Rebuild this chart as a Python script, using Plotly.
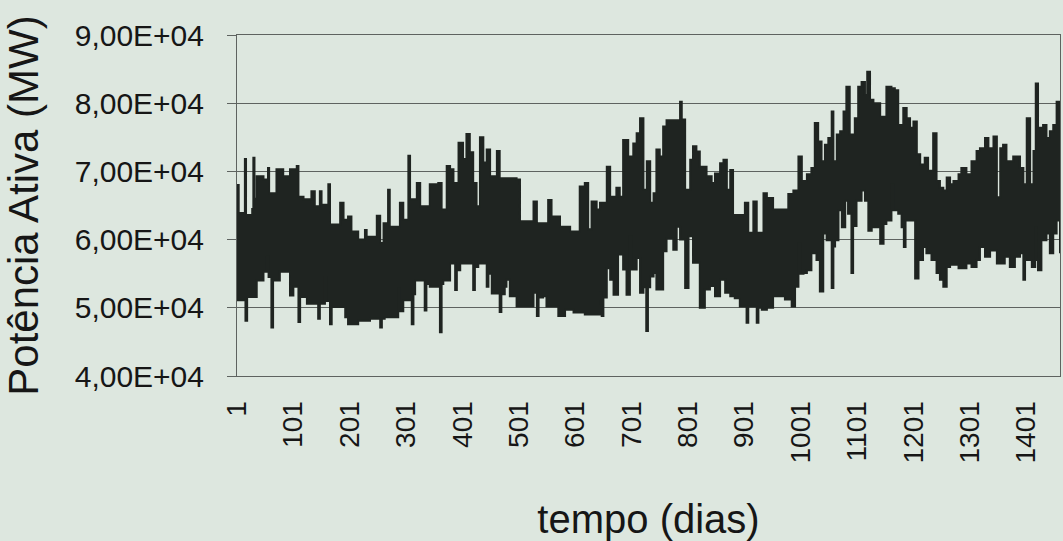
import plotly.graph_objects as go

# upper envelope of the daily load (day, MW)
dias_max = [1, 4, 15, 17, 24, 28, 30, 32, 36, 48,
            56, 58, 71, 83, 95, 107, 110, 119, 133, 139,
            148, 151, 163, 166, 184, 190, 198, 204, 216, 228,
            231, 249, 255, 261, 269, 272, 290, 296, 305, 308,
            320, 326, 343, 358, 364, 373, 379, 385, 394, 402,
            408, 414, 420, 426, 432, 438, 444, 450, 462, 467,
            497, 503, 527, 533, 553, 559, 574, 592, 609, 618,
            624, 630, 639, 645, 657, 663, 674, 680, 686, 695,
            704, 710, 716, 722, 728, 734, 740, 745, 751, 757,
            763, 787, 790, 796, 805, 810, 816, 822, 834, 843,
            849, 858, 864, 870, 876, 881, 902, 908, 917, 923,
            935, 941, 952, 979, 988, 997, 1003, 1012, 1020, 1026,
            1032, 1038, 1044, 1050, 1056, 1059, 1065, 1071, 1077, 1082,
            1088, 1097, 1103, 1109, 1115, 1119, 1124, 1130, 1142, 1153,
            1162, 1168, 1174, 1183, 1189, 1195, 1201, 1207, 1213, 1221,
            1227, 1236, 1242, 1248, 1254, 1260, 1266, 1272, 1281, 1286,
            1295, 1304, 1313, 1319, 1328, 1334, 1343, 1349, 1355, 1360,
            1366, 1378, 1390, 1396, 1402, 1408, 1414, 1418, 1422, 1431,
            1437, 1443, 1449, 1455, 1461]
pot_max = [68000, 63900, 71800, 63600, 63600, 64500, 72000, 66000, 69300, 68800,
           70500, 66800, 70300, 69300, 70300, 70800, 66300, 65900, 67100, 64900,
           67100, 65100, 68100, 62200, 65400, 62900, 63400, 61200, 60000, 61400,
           60400, 63500, 59500, 62400, 67300, 61900, 65400, 62900, 72300, 65900,
           68300, 64900, 68100, 68300, 64400, 70800, 70300, 68300, 74200, 71800,
           75500, 72800, 68300, 64900, 75000, 71300, 73200, 69300, 73000, 69000,
           68800, 62700, 65600, 62400, 65800, 63400, 61900, 61200, 67800, 68300,
           61500, 65600, 64400, 65400, 70700, 66300, 67600, 66300, 74600, 72200,
           74100, 75600, 77800, 67300, 71500, 65400, 66800, 73200, 72200, 76600,
           77500, 80200, 77600, 67300, 71700, 73700, 72900, 70700, 69300, 68300,
           69700, 71200, 71700, 67300, 70200, 63600, 65400, 61000, 65600, 61000,
           66800, 66100, 64400, 66700, 67200, 72200, 68600, 69600, 70500, 77100,
           74400, 71500, 73900, 74900, 78800, 71500, 75400, 75900, 78800, 82400,
           75400, 77800, 82400, 83100, 81200, 84600, 80500, 80000, 78000, 82400,
           82200, 81900, 76800, 79300, 77800, 76400, 77300, 72500, 71000, 72000,
           70100, 75600, 68600, 67600, 67200, 69100, 68100, 68600, 69600, 70500,
           69600, 71500, 73000, 73400, 74900, 73400, 75100, 66200, 73400, 73900,
           71500, 72200, 70500, 68100, 77800, 68100, 73000, 82900, 76400, 76800,
           74900, 75900, 76800, 80200, 77300]

# lower envelope of the daily load (day, MW)
dias_min = [1, 16, 19, 36, 48, 54, 57, 62, 65, 77,
            95, 101, 110, 113, 125, 145, 148, 157, 160, 166,
            169, 193, 198, 216, 237, 255, 258, 263, 287, 290,
            296, 311, 314, 317, 334, 337, 343, 361, 364, 367,
            379, 388, 391, 397, 420, 423, 429, 444, 447, 453,
            467, 470, 476, 479, 485, 497, 527, 533, 536, 544,
            550, 571, 583, 598, 618, 633, 645, 648, 651, 657,
            663, 669, 677, 686, 692, 698, 701, 710, 716, 722,
            727, 730, 734, 740, 745, 757, 763, 775, 781, 787,
            796, 802, 810, 822, 831, 840, 849, 858, 867, 876,
            884, 893, 905, 908, 923, 926, 932, 941, 952, 964,
            973, 985, 991, 997, 1000, 1006, 1012, 1020, 1029, 1035,
            1041, 1047, 1056, 1059, 1062, 1068, 1074, 1080, 1085, 1091,
            1094, 1100, 1109, 1115, 1121, 1127, 1142, 1148, 1153, 1162,
            1165, 1174, 1180, 1184, 1187, 1204, 1210, 1218, 1224, 1233,
            1242, 1248, 1254, 1260, 1266, 1281, 1295, 1304, 1313, 1319,
            1328, 1337, 1349, 1363, 1372, 1381, 1390, 1396, 1399, 1411,
            1417, 1420, 1422, 1428, 1437, 1443, 1449, 1455, 1461]
pot_min = [51100, 48100, 51600, 54000, 55300, 57500, 54500, 47100, 54000, 55300,
           51800, 53100, 47900, 51600, 50600, 48400, 50600, 54500, 51000, 47600,
           50100, 48600, 47600, 48100, 48400, 47100, 48400, 48600, 52800, 49500,
           51100, 47600, 52000, 54000, 49600, 53500, 53100, 46400, 53500, 54000,
           56500, 52600, 55500, 56500, 52600, 56000, 56500, 53100, 55000, 52100,
           49400, 52000, 53100, 54100, 51700, 50200, 52200, 48800, 51500, 51700,
           50200, 48800, 49700, 49300, 49000, 49000, 52200, 48800, 51500, 55800,
           54100, 51900, 57800, 55600, 51900, 60500, 55600, 57300, 52200, 53000,
           46600, 53000, 54600, 55100, 52700, 58300, 60200, 58500, 61900, 60000,
           52900, 60500, 56600, 50000, 52700, 53200, 51700, 54100, 52200, 51700,
           51400, 50200, 47800, 50200, 47800, 50000, 49700, 50000, 51700, 51700,
           51200, 50200, 53100, 59400, 55000, 55100, 55500, 58000, 57000, 52400,
           60900, 59900, 52900, 59000, 59900, 64300, 61800, 65700, 63800, 55100,
           62000, 65700, 67200, 65700, 61300, 61800, 59400, 62300, 62800, 68100,
           64300, 63800, 61800, 58900, 62800, 54300, 57000, 58900, 58000, 57000,
           55100, 54100, 53100, 56000, 56300, 55800, 56500, 56000, 57000, 58900,
           57500, 58400, 56500, 57500, 56000, 57500, 58000, 54100, 57000, 56000,
           61800, 57000, 55500, 59900, 60900, 58000, 60900, 62800, 58000]

assert len(dias_max) == len(pot_max), (len(dias_max), len(pot_max))
assert len(dias_min) == len(pot_min), (len(dias_min), len(pot_min))

y_ticks = [40000, 50000, 60000, 70000, 80000, 90000]
y_labels = ["4,00E+04", "5,00E+04", "6,00E+04", "7,00E+04", "8,00E+04", "9,00E+04"]
x_ticks = [1, 101, 201, 301, 401, 501, 601, 701, 801, 901, 1001, 1101, 1201, 1301, 1401]
x_labels = [str(v) for v in x_ticks]

bg = "#dde7df"
ink = "#1f2421"
txt = "#161616"
grid = "#5e6360"
font_family = "Arial, 'Liberation Sans', sans-serif"

fig = go.Figure()
fig.add_trace(go.Scatter(x=dias_min, y=pot_min, mode="lines", line=dict(color=ink, width=2, shape="hv"),
                         hoverinfo="skip", showlegend=False))
fig.add_trace(go.Scatter(x=dias_max, y=pot_max, mode="lines", line=dict(color=ink, width=2, shape="hv"),
                         fill="tonexty", fillcolor=ink, hoverinfo="skip", showlegend=False))

fig.update_layout(
    width=1063, height=541,
    margin=dict(l=237, r=3, t=35, b=165),
    paper_bgcolor=bg, plot_bgcolor=bg,
    font=dict(family=font_family, color=txt),
    showlegend=False,
)
fig.update_yaxes(
    range=[40000, 90000], tickvals=y_ticks, ticktext=y_labels,
    tickfont=dict(size=30, color=txt),
    ticks="outside", ticklen=9, tickcolor=grid, tickwidth=1,
    ticklabelstandoff=17,
    showgrid=True, gridcolor=grid, gridwidth=1,
    showline=True, linecolor=grid, linewidth=1, mirror=True,
    zeroline=False,
    title=dict(text="Potência Ativa (MW)", font=dict(size=42, color=txt), standoff=28),
)
fig.update_xaxes(
    range=[1, 1461], tickvals=x_ticks, ticktext=x_labels, tickangle=-90,
    tickfont=dict(size=28, color=txt),
    ticks="", ticklabelstandoff=13,
    showgrid=False, zeroline=False,
    showline=True, linecolor=grid, linewidth=1, mirror=True,
    title=dict(text="tempo (dias)", font=dict(size=40, color=txt), standoff=42),
)

fig.write_html("out.html")
